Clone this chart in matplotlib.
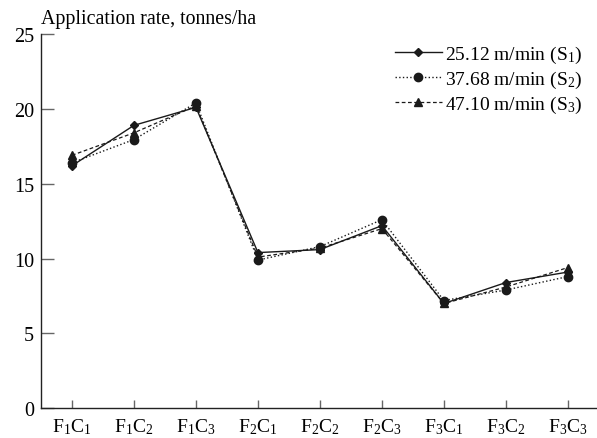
import numpy as np
import matplotlib
matplotlib.use('Agg')
import matplotlib.pyplot as plt

plt.rcParams['font.family'] = ['Liberation Serif', 'DejaVu Serif']
plt.rcParams['mathtext.fontset'] = 'custom'
plt.rcParams['mathtext.rm'] = 'Liberation Serif'
plt.rcParams['mathtext.it'] = 'Liberation Serif'

# data
treatments = [r'F$_1$C$_1$', r'F$_1$C$_2$', r'F$_1$C$_3$',
              r'F$_2$C$_1$', r'F$_2$C$_2$', r'F$_2$C$_3$',
              r'F$_3$C$_1$', r'F$_3$C$_2$', r'F$_3$C$_3$']
s1 = [16.2, 18.9, 20.1, 10.4, 10.6, 12.2, 7.0, 8.4, 9.1]
s2 = [16.4, 17.95, 20.4, 9.9, 10.8, 12.6, 7.2, 7.9, 8.8]
s3 = [16.9, 18.4, 20.2, 10.1, 10.7, 12.0, 7.0, 8.1, 9.4]
labels = [r'25.12 m/min (S$_1$)', r'37.68 m/min (S$_2$)', r'47.10 m/min (S$_3$)']

x = np.arange(len(treatments))

fig = plt.figure(figsize=(5.97, 4.39), dpi=100)
ax = fig.add_axes([41/597, 1-409.3/439, 556/597, (409.3-35)/439])

c = '#1a1a1a'
ax.plot(x, s1, '-', color=c, lw=1.0, marker='D', ms=4.5, label=labels[0])
ax.plot(x, s2, ':', color=c, lw=1.0, marker='o', ms=6, label=labels[1])
ax.plot(x, s3, '--', color=c, lw=0.9, marker='^', ms=6, dashes=(3, 2), label=labels[2])

ax.set_xlim(-0.5, 8.47)
ax.set_ylim(0, 25)
ax.set_yticks([0, 5, 10, 15, 20, 25])
ax.set_xticks(x)
ax.set_xticklabels(treatments)
ax.spines['top'].set_visible(False)
ax.spines['right'].set_visible(False)
for s in ['left', 'bottom']:
    ax.spines[s].set_linewidth(1.0)
    ax.spines[s].set_color('#222222')
ax.tick_params(axis='y', direction='in', length=9, width=1, color='#666666',
               labelsize=14.5, pad=5)
ax.tick_params(axis='x', direction='in', length=6, width=1, color='#666666',
               labelsize=14, pad=6)

ax.text(0.0, 1.015, 'Application rate, tonnes/ha', transform=ax.transAxes,
        ha='left', va='bottom', fontsize=14.3)

ax.legend(loc='upper right', bbox_to_anchor=(0.995, 1.005), frameon=False,
          fontsize=14, handlelength=2.4, handletextpad=0.2, labelspacing=0.2,
          borderaxespad=0.2)

plt.savefig('out.png', dpi=100)
plt.close()
